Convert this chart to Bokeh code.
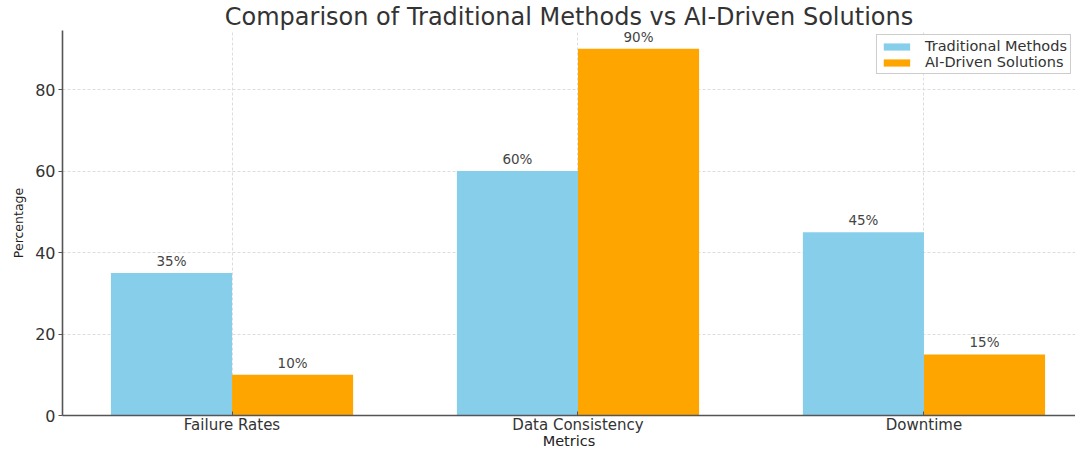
from bokeh.plotting import figure
from bokeh.models import ColumnDataSource, FixedTicker, Legend, LegendItem, Range1d, LabelSet
from bokeh.core.properties import value
from bokeh.embed import file_html
from bokeh.resources import INLINE

categories = ["Failure Rates", "Data Consistency", "Downtime"]
traditional = [35, 60, 45]
ai_driven = [10, 90, 15]
series_names = ["Traditional Methods", "AI-Driven Solutions"]
y_ticks = [0, 20, 40, 60, 80]

bar_w = 0.35
xs = list(range(len(categories)))

p = figure(width=1075, height=451, output_backend="svg", toolbar_location=None,
           x_range=Range1d(-0.49, 2.438), y_range=Range1d(0, 94.5),
           min_border_left=62, min_border_right=0, min_border_top=30, min_border_bottom=25)
p.outline_line_color = None
p.title.text = "Comparison of Traditional Methods vs AI-Driven Solutions"
p.title.align = "center"
p.title.text_font = "DejaVu Sans"
p.title.text_font_size = "24px"
p.title.text_font_style = "normal"
p.title.text_color = "#333333"
p.title.standoff = 0
p.title.offset = 0

src_t = ColumnDataSource(dict(x=[x - bar_w / 2 for x in xs], top=traditional,
                              lab=[f"{v}%" for v in traditional]))
src_a = ColumnDataSource(dict(x=[x + bar_w / 2 for x in xs], top=ai_driven,
                              lab=[f"{v}%" for v in ai_driven]))
r1 = p.vbar(x="x", top="top", width=bar_w, source=src_t, color="#87CEEB", line_color=None)
r2 = p.vbar(x="x", top="top", width=bar_w, source=src_a, color="#FFA500", line_color=None)

for src in (src_t, src_a):
    p.add_layout(LabelSet(x="x", y="top", text="lab", source=src, text_align="center",
                          text_baseline="bottom", y_offset=4, text_font=value("DejaVu Sans"),
                          text_font_size=value("13.5px"), text_color="#444444"))

p.xaxis.ticker = FixedTicker(ticks=xs)
p.xaxis.major_label_overrides = {i: c for i, c in enumerate(categories)}
p.xaxis.axis_label = "Metrics"
p.yaxis.axis_label = "Percentage"
p.yaxis.ticker = FixedTicker(ticks=y_ticks)
for ax in (p.xaxis, p.yaxis):
    ax.axis_line_color = "#555555"
    ax.axis_line_width = 1.6
    ax.major_tick_line_color = "#555555"
    ax.minor_tick_line_color = None
    ax.major_label_text_font = "DejaVu Sans"
    ax.major_label_text_color = "#333333"
    ax.axis_label_text_font = "DejaVu Sans"
    ax.axis_label_text_font_style = "normal"
    ax.axis_label_text_color = "#222222"
p.xaxis.major_label_text_font_size = "15px"
p.xaxis.axis_label_text_font_size = "14.5px"
p.yaxis.major_label_text_font_size = "16px"
p.yaxis.axis_label_text_font_size = "12.5px"
p.xaxis.major_tick_in = 4
p.xaxis.major_tick_out = 0
p.yaxis.major_tick_in = 0
p.yaxis.major_tick_out = 4
p.xaxis.major_label_standoff = 0
p.xaxis.axis_label_standoff = -4
p.yaxis.major_label_standoff = 3
p.yaxis.axis_label_standoff = 6

p.grid.grid_line_color = "#dddddd"
p.grid.grid_line_dash = "3 2"
p.grid.grid_line_width = 1

legend = Legend(items=[LegendItem(label=series_names[0], renderers=[r1]),
                       LegendItem(label=series_names[1], renderers=[r2])],
                location="top_right")
legend.label_text_font = "DejaVu Sans"
legend.label_text_font_size = "14.5px"
legend.label_text_color = "#333333"
legend.border_line_color = "#cccccc"
legend.border_line_alpha = 1
legend.background_fill_alpha = 0.9
legend.glyph_width = 33
legend.glyph_height = 9
legend.spacing = 0
legend.padding = 3
legend.margin = 4
legend.label_height = 16
legend.label_standoff = 12
p.add_layout(legend)

open("out.html", "w").write(file_html(p, INLINE))
